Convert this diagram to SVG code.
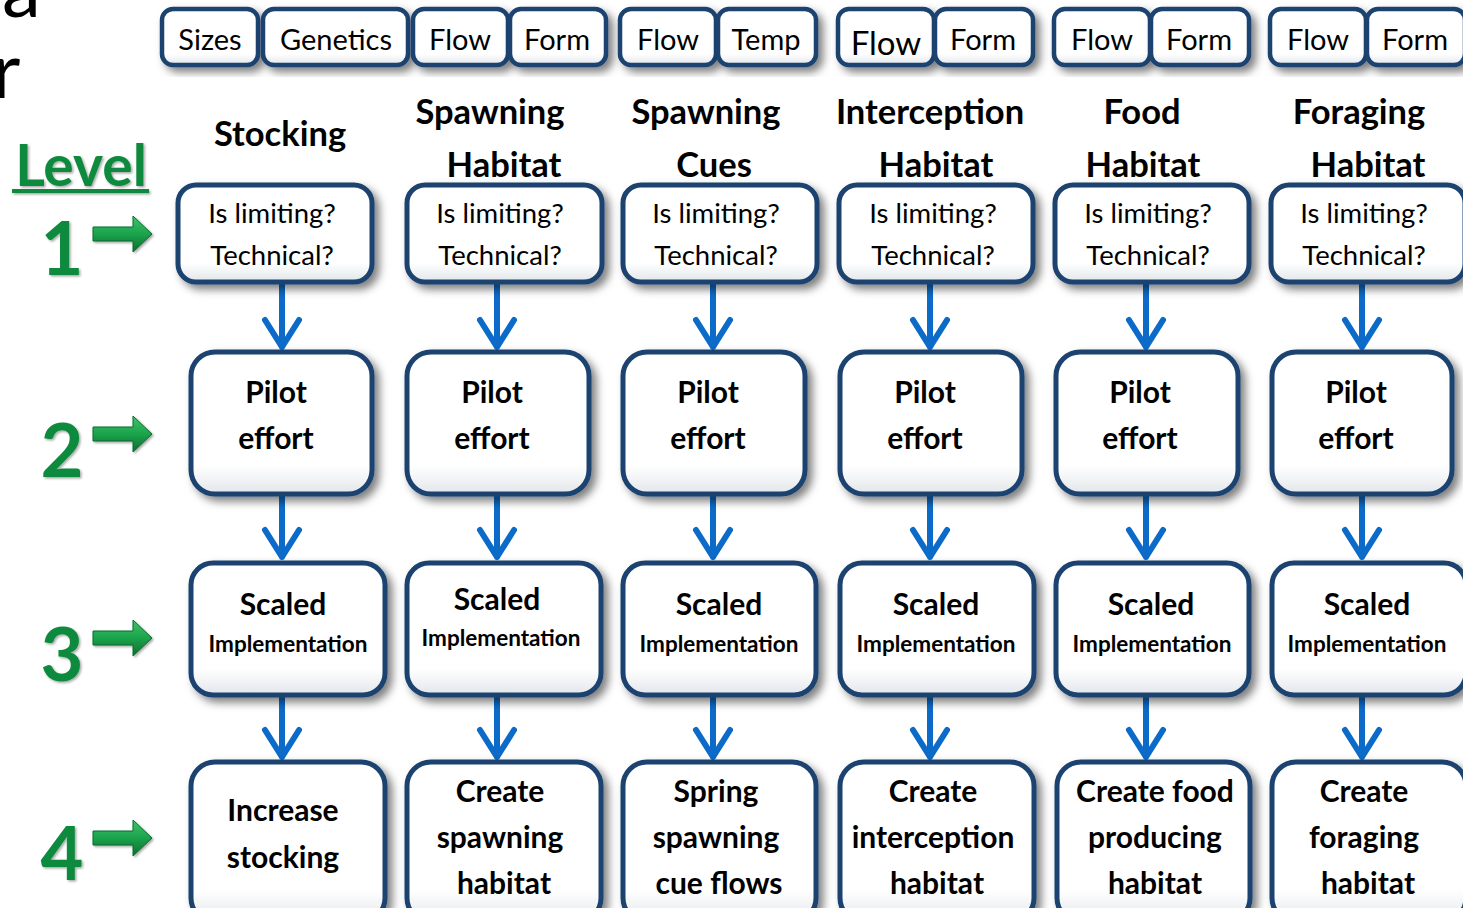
<svg xmlns="http://www.w3.org/2000/svg" width="1463" height="908" viewBox="0 0 1463 908">
  <style>
    .box { fill: url(#boxFill); stroke: #1A4270; stroke-width: 5; filter: url(#shadow); }
    .tag { fill: url(#boxFill); stroke: #1A4270; stroke-width: 4.5; filter: url(#shadow); }
    .reg { font-family: Lato, "Open Sans", sans-serif; fill: #000; text-anchor: middle; }
    .bold { font-family: Lato, "Open Sans", sans-serif; font-weight: bold; fill: #000; text-anchor: middle; }
    .tagtxt { font-size: 29px; }
    .head { font-size: 34.5px; }
    .q { font-size: 27.5px; }
    .main { font-size: 30px; }
    .impl { font-size: 22.5px; }
    .green { font-family: Lato, "Open Sans", sans-serif; font-weight: bold; fill: #108A3E; text-anchor: middle; }
    .conn { stroke: #0C6BC9; stroke-width: 6; fill: none; stroke-linecap: round; stroke-linejoin: round; }
  </style>
  <defs>
    <linearGradient id="boxFill" x1="0" y1="0" x2="0" y2="1">
      <stop offset="0" stop-color="#ffffff"/>
      <stop offset="0.8" stop-color="#ffffff"/>
      <stop offset="1" stop-color="#e2e6ea"/>
    </linearGradient>
    <linearGradient id="greenFill" x1="0" y1="0" x2="0" y2="1">
      <stop offset="0" stop-color="#3CC46A"/>
      <stop offset="0.5" stop-color="#1CA34C"/>
      <stop offset="1" stop-color="#0B6E2F"/>
    </linearGradient>
    <filter id="shadow" x="-10%" y="-10%" width="125%" height="130%">
      <feDropShadow dx="5" dy="5" stdDeviation="4" flood-color="#000" flood-opacity="0.5"/>
    </filter>
    <filter id="softShadow" x="-10%" y="-10%" width="130%" height="130%">
      <feDropShadow dx="1.5" dy="1.5" stdDeviation="1" flood-color="#000" flood-opacity="0.35"/>
    </filter>
    <path id="gArrow" d="M0,-7 H40 V-18 L59,0 L40,18 V7 H0 Z" fill="url(#greenFill)" stroke="#0B6A2D" stroke-width="1"/>
  </defs>

  <rect width="1463" height="908" fill="#ffffff"/>

  <!-- clipped letters at the top-left edge -->
  <text x="2" y="17" font-family="Lato, sans-serif" font-size="78" fill="#000">a</text>
  <text x="-8" y="98" font-family="Lato, sans-serif" font-size="78" fill="#000">r</text>

  <!-- level labels -->
  <g id="levels" filter="url(#softShadow)">
    <text x="81" y="186" class="green" font-size="57">Level</text>
    <rect x="12" y="189" width="137" height="4" fill="#108A3E"/>
    <text x="62" y="275" class="green" font-size="74">1</text>
    <text x="62" y="477" class="green" font-size="74">2</text>
    <text x="62" y="681" class="green" font-size="74">3</text>
    <text x="62" y="880" class="green" font-size="74">4</text>
    <use href="#gArrow" x="93" y="234"/>
    <use href="#gArrow" x="93" y="434"/>
    <use href="#gArrow" x="93" y="638"/>
    <use href="#gArrow" x="93" y="838"/>
  </g>

  <!-- top category tags -->
  <g id="tags">
    <g id="tag-sizes"><rect class="tag" x="162" y="9" width="96" height="56" rx="11"/><text class="reg tagtxt" x="210" y="50">Sizes</text></g>
    <g id="tag-genetics"><rect class="tag" x="263" y="9" width="145" height="56" rx="11"/><text class="reg tagtxt" x="336" y="50">Genetics</text></g>
    <g id="tag-flow2"><rect class="tag" x="413" y="9" width="95" height="56" rx="11"/><text class="reg tagtxt" x="460" y="50">Flow</text></g>
    <g id="tag-form2"><rect class="tag" x="510" y="9" width="96" height="56" rx="11"/><text class="reg tagtxt" x="557" y="50">Form</text></g>
    <g id="tag-flow3"><rect class="tag" x="620" y="9" width="96" height="56" rx="11"/><text class="reg tagtxt" x="668" y="50">Flow</text></g>
    <g id="tag-temp3"><rect class="tag" x="718" y="9" width="98" height="56" rx="11"/><text class="reg tagtxt" x="766" y="50">Temp</text></g>
    <g id="tag-flow4"><rect class="tag" x="838" y="9" width="96" height="56" rx="11"/><text class="reg" font-size="33" x="886" y="55">Flow</text></g>
    <g id="tag-form4"><rect class="tag" x="935" y="9" width="98" height="56" rx="11"/><text class="reg tagtxt" x="983" y="50">Form</text></g>
    <g id="tag-flow5"><rect class="tag" x="1054" y="9" width="96" height="56" rx="11"/><text class="reg tagtxt" x="1102" y="50">Flow</text></g>
    <g id="tag-form5"><rect class="tag" x="1151" y="9" width="98" height="56" rx="11"/><text class="reg tagtxt" x="1199" y="50">Form</text></g>
    <g id="tag-flow6"><rect class="tag" x="1270" y="9" width="96" height="56" rx="11"/><text class="reg tagtxt" x="1318" y="50">Flow</text></g>
    <g id="tag-form6"><rect class="tag" x="1367" y="9" width="98" height="56" rx="11"/><text class="reg tagtxt" x="1415" y="50">Form</text></g>
  </g>

  <!-- column headings -->
  <g id="headings">
    <text class="bold head" x="280" y="146">Stocking</text>
    <text class="bold head" x="490" y="124">Spawning</text>
    <text class="bold head" x="504" y="177">Habitat</text>
    <text class="bold head" x="706" y="124">Spawning</text>
    <text class="bold head" x="714" y="177">Cues</text>
    <text class="bold head" x="930" y="124">Interception</text>
    <text class="bold head" x="936" y="177">Habitat</text>
    <text class="bold head" x="1142" y="124">Food</text>
    <text class="bold head" x="1143" y="177">Habitat</text>
    <text class="bold head" x="1359" y="124">Foraging</text>
    <text class="bold head" x="1368" y="177">Habitat</text>
  </g>

  <!-- connectors -->
  <g id="connectors">
    <g id="c1">
      <path class="conn" d="M282,284 V347 M265,320 L282,347 L299,320"/>
      <path class="conn" d="M282,496 V557 M265,530 L282,557 L299,530"/>
      <path class="conn" d="M282,697 V757 M265,730 L282,757 L299,730"/>
    </g>
    <g id="c2">
      <path class="conn" d="M497,284 V347 M480,320 L497,347 L514,320"/>
      <path class="conn" d="M497,496 V557 M480,530 L497,557 L514,530"/>
      <path class="conn" d="M497,697 V757 M480,730 L497,757 L514,730"/>
    </g>
    <g id="c3">
      <path class="conn" d="M713,284 V347 M696,320 L713,347 L730,320"/>
      <path class="conn" d="M713,496 V557 M696,530 L713,557 L730,530"/>
      <path class="conn" d="M713,697 V757 M696,730 L713,757 L730,730"/>
    </g>
    <g id="c4">
      <path class="conn" d="M930,284 V347 M913,320 L930,347 L947,320"/>
      <path class="conn" d="M930,496 V557 M913,530 L930,557 L947,530"/>
      <path class="conn" d="M930,697 V757 M913,730 L930,757 L947,730"/>
    </g>
    <g id="c5">
      <path class="conn" d="M1146,284 V347 M1129,320 L1146,347 L1163,320"/>
      <path class="conn" d="M1146,496 V557 M1129,530 L1146,557 L1163,530"/>
      <path class="conn" d="M1146,697 V757 M1129,730 L1146,757 L1163,730"/>
    </g>
    <g id="c6">
      <path class="conn" d="M1362,284 V347 M1345,320 L1362,347 L1379,320"/>
      <path class="conn" d="M1362,496 V557 M1345,530 L1362,557 L1379,530"/>
      <path class="conn" d="M1362,697 V757 M1345,730 L1362,757 L1379,730"/>
    </g>
  </g>

  <!-- level 1: assessment boxes -->
  <g id="l1-stocking"><rect class="box" x="178" y="185" width="194" height="97" rx="18"/><text class="reg q" x="272" y="223">Is limiting?</text><text class="reg q" x="272" y="265">Technical?</text></g>
  <g id="l1-spawnhab"><rect class="box" x="407" y="185" width="195" height="97" rx="18"/><text class="reg q" x="500" y="223">Is limiting?</text><text class="reg q" x="500" y="265">Technical?</text></g>
  <g id="l1-cues"><rect class="box" x="623" y="185" width="194" height="97" rx="18"/><text class="reg q" x="716" y="223">Is limiting?</text><text class="reg q" x="716" y="265">Technical?</text></g>
  <g id="l1-intercept"><rect class="box" x="839" y="185" width="194" height="97" rx="18"/><text class="reg q" x="933" y="223">Is limiting?</text><text class="reg q" x="933" y="265">Technical?</text></g>
  <g id="l1-food"><rect class="box" x="1055" y="185" width="194" height="97" rx="18"/><text class="reg q" x="1148" y="223">Is limiting?</text><text class="reg q" x="1148" y="265">Technical?</text></g>
  <g id="l1-forage"><rect class="box" x="1271" y="185" width="194" height="97" rx="18"/><text class="reg q" x="1364" y="223">Is limiting?</text><text class="reg q" x="1364" y="265">Technical?</text></g>

  <!-- level 2: pilot boxes -->
  <g id="l2-stocking"><rect class="box" x="191" y="352" width="181" height="142" rx="24"/><text class="bold main" x="276" y="403">Pilot</text><text class="bold main" x="276" y="449">effort</text></g>
  <g id="l2-spawnhab"><rect class="box" x="407" y="352" width="182" height="142" rx="24"/><text class="bold main" x="492" y="403">Pilot</text><text class="bold main" x="492" y="449">effort</text></g>
  <g id="l2-cues"><rect class="box" x="623" y="352" width="182" height="142" rx="24"/><text class="bold main" x="708" y="403">Pilot</text><text class="bold main" x="708" y="449">effort</text></g>
  <g id="l2-intercept"><rect class="box" x="840" y="352" width="182" height="142" rx="24"/><text class="bold main" x="925" y="403">Pilot</text><text class="bold main" x="925" y="449">effort</text></g>
  <g id="l2-food"><rect class="box" x="1056" y="352" width="182" height="142" rx="24"/><text class="bold main" x="1140" y="403">Pilot</text><text class="bold main" x="1140" y="449">effort</text></g>
  <g id="l2-forage"><rect class="box" x="1272" y="352" width="180" height="142" rx="24"/><text class="bold main" x="1356" y="403">Pilot</text><text class="bold main" x="1356" y="449">effort</text></g>

  <!-- level 3: scaled implementation boxes -->
  <g id="l3-stocking"><rect class="box" x="191" y="563" width="194" height="132" rx="22"/><text class="bold main" x="283" y="615">Scaled</text><text class="bold impl" x="288" y="652">Implementation</text></g>
  <g id="l3-spawnhab"><rect class="box" x="407" y="563" width="194" height="132" rx="22"/><text class="bold main" x="497" y="610">Scaled</text><text class="bold impl" x="501" y="646">Implementation</text></g>
  <g id="l3-cues"><rect class="box" x="623" y="563" width="193" height="132" rx="22"/><text class="bold main" x="719" y="615">Scaled</text><text class="bold impl" x="719" y="652">Implementation</text></g>
  <g id="l3-intercept"><rect class="box" x="840" y="563" width="194" height="132" rx="22"/><text class="bold main" x="936" y="615">Scaled</text><text class="bold impl" x="936" y="652">Implementation</text></g>
  <g id="l3-food"><rect class="box" x="1056" y="563" width="193" height="132" rx="22"/><text class="bold main" x="1151" y="615">Scaled</text><text class="bold impl" x="1152" y="652">Implementation</text></g>
  <g id="l3-forage"><rect class="box" x="1272" y="563" width="194" height="132" rx="22"/><text class="bold main" x="1367" y="615">Scaled</text><text class="bold impl" x="1367" y="652">Implementation</text></g>

  <!-- level 4: outcome boxes -->
  <g id="l4-stocking"><rect class="box" x="191" y="762" width="194" height="160" rx="24"/><text class="bold main" x="283" y="821">Increase</text><text class="bold main" x="283" y="868">stocking</text></g>
  <g id="l4-spawnhab"><rect class="box" x="407" y="762" width="194" height="160" rx="24"/><text class="bold main" x="500" y="802">Create</text><text class="bold main" x="500" y="848">spawning</text><text class="bold main" x="504" y="894">habitat</text></g>
  <g id="l4-cues"><rect class="box" x="623" y="762" width="193" height="160" rx="24"/><text class="bold main" x="716" y="802">Spring</text><text class="bold main" x="716" y="848">spawning</text><text class="bold main" x="719" y="894">cue flows</text></g>
  <g id="l4-intercept"><rect class="box" x="840" y="762" width="194" height="160" rx="24"/><text class="bold main" x="933" y="802">Create</text><text class="bold main" x="933" y="848">interception</text><text class="bold main" x="937" y="894">habitat</text></g>
  <g id="l4-food"><rect class="box" x="1057" y="762" width="193" height="160" rx="24"/><text class="bold main" x="1155" y="802">Create food</text><text class="bold main" x="1155" y="848">producing</text><text class="bold main" x="1155" y="894">habitat</text></g>
  <g id="l4-forage"><rect class="box" x="1272" y="762" width="194" height="160" rx="24"/><text class="bold main" x="1364" y="802">Create</text><text class="bold main" x="1364" y="848">foraging</text><text class="bold main" x="1368" y="894">habitat</text></g>
</svg>
